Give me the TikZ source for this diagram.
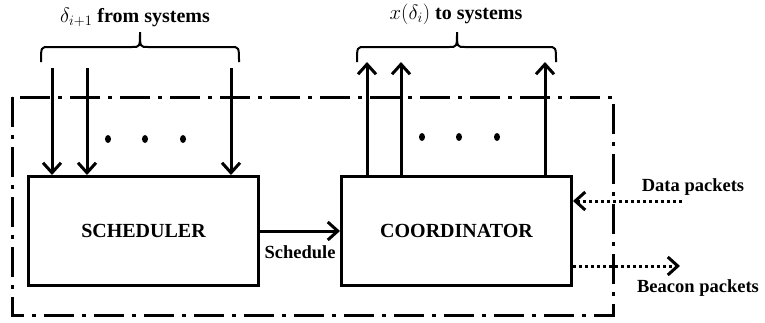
\documentclass[tikz,border=0pt]{standalone}
\usepackage{fontspec}
\setmainfont{Liberation Serif}
\usetikzlibrary{arrows.meta,positioning,calc}

\begin{document}
\begin{tikzpicture}[x=1pt,y=-1pt,
  blockbox/.style={draw,line width=3pt,minimum width=230pt,minimum height=109pt,
    font=\bfseries\fontsize{20}{24}\selectfont},
  sysarrow/.style={line width=3pt,-{Straight Barb[length=10pt,width=18pt]}},
  pktarrow/.style={line width=3pt,dash pattern=on 3pt off 3pt,-{Straight Barb[length=10pt,width=18pt]}},
  sysbrace/.style={line width=2pt},
  lbl/.style={font=\bfseries\fontsize{18.5}{22}\selectfont,inner sep=1pt}]
\useasboundingbox (0,0) rectangle (765,322);
% dash-dot frame round the coordinator side
\draw[line width=3pt,dash pattern=on 30pt off 8pt on 4pt off 8pt] (12,97) rectangle (613,315);
% the two blocks
\node[blockbox] (sched) at (143.5,231) {SCHEDULER};
\node[blockbox] (coord) at (456.5,231) {COORDINATOR};
\draw[sysarrow] (sched.east) -- node[lbl,below=12pt] (schedlbl) {Schedule} (coord.west);
% inputs from the systems
\foreach \k/\x in {1/52,2/87,3/231}{
  \coordinate (in\k) at (\x,68);
  \draw[sysarrow] (in\k) -- (in\k |- sched.north);
}
% outputs to the systems
\foreach \k/\x in {1/367,2/401,3/545}{
  \coordinate (out\k) at (\x,62);
  \draw[sysarrow] (out\k |- coord.north) -- (out\k);
}
\foreach \x in {108,145,183}{
  \fill (\x,139) ellipse (3pt and 4pt);
}
\foreach \x in {422,459,497}{
  \fill (\x,137) ellipse (3pt and 4pt);
}
% braces and their labels
\coordinate (inL) at (41,62);
\coordinate (inR) at (239,62);
\draw[sysbrace] (inL) .. controls (41,47) .. (49,47) -- (132,47)
  .. controls (140,47) .. (140,32) .. controls (140,47) .. (148,47)
  -- (231,47) .. controls (239,47) .. (inR);
\node[lbl,font=\bfseries\fontsize{20}{24}\selectfont] (inlbl) at (135,17) {$\delta_{i+1}$ from systems};
\coordinate (outL) at (357,62);
\coordinate (outR) at (556,62);
\draw[sysbrace] (outL) .. controls (357,47) .. (365,47) -- (449,47)
  .. controls (457,47) .. (457,32) .. controls (457,47) .. (465,47)
  -- (548,47) .. controls (556,47) .. (outR);
\node[lbl,font=\bfseries\fontsize{20}{24}\selectfont] (outlbl) at (456,14) {$x(\delta_i)$ to systems};
% packets
\coordinate (datain) at (682,201);
\draw[pktarrow] (datain) -- (datain -| coord.east);
\node[lbl] (datalbl) at (693,187) {Data packets};
\coordinate (beaconout) at (680,266);
\draw[pktarrow] (beaconout -| coord.east) -- (beaconout);
\node[lbl] (beaconlbl) at (698,288) {Beacon packets};
\end{tikzpicture}
\end{document}
